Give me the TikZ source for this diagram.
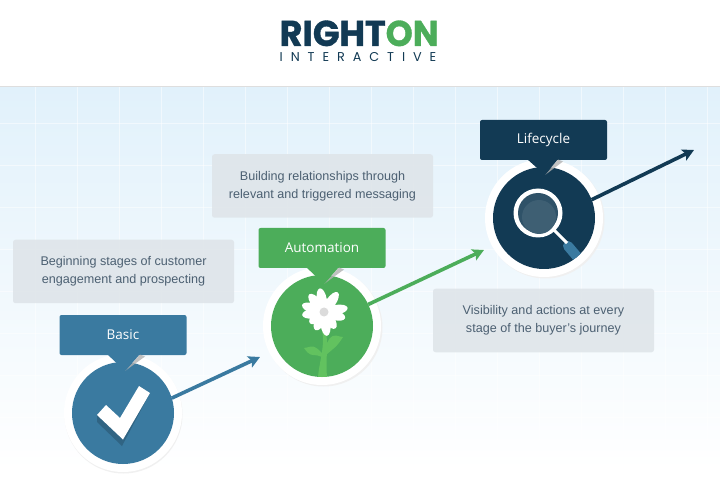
\documentclass[tikz,border=0pt]{standalone}
\usepackage{fontspec}
\setmainfont{Liberation Sans}
\newfontfamily\logofont{Poppins}
\newfontfamily\tagfont{Open Sans}
\usetikzlibrary{arrows.meta,calc}
\definecolor{bluec}{HTML}{3A7AA0}
\definecolor{greenc}{HTML}{4CAD5A}
\definecolor{navyc}{HTML}{123A54}
\definecolor{skyc}{HTML}{E1F1FB}
\definecolor{greybox}{HTML}{DFE5EA}
\definecolor{textc}{HTML}{4C6072}
\definecolor{stemc}{HTML}{62C25F}
\definecolor{glassa}{HTML}{2F5268}
\definecolor{glassb}{HTML}{3E5F73}
\tikzset{
  descbox/.style={fill=greybox,fill opacity=.9,text opacity=1,rounded corners=2.5pt,minimum width=221pt,minimum height=63.5pt,inner sep=0pt,
    text=textc,align=center,font=\fontsize{12.6}{18}\selectfont},
  tagbox/.style={rounded corners=2pt,minimum width=127pt,minimum height=40pt,inner sep=0pt,
    text=white,font=\tagfont\fontsize{13.5}{16}\selectfont},
  disc/.style={circle,minimum size=102pt,inner sep=0pt,outer sep=0pt},
  halo/.style={circle,fill=white,minimum size=118pt,inner sep=0pt,outer sep=0pt},
  halosh/.style={circle,fill=black!6,minimum size=118pt,inner sep=0pt,outer sep=0pt},
  stepline/.style={line width=3.6pt,-{Stealth[length=11.5pt,width=12pt,inset=2.5pt]}},
}
\begin{document}
\begin{tikzpicture}[x=1pt,y=-1pt]
\useasboundingbox (0,0) rectangle (720,486);
% background
\fill[white] (0,0) rectangle (720,486);
\shade[top color=skyc,bottom color=white] (0,87) rectangle (720,470);
\begin{scope}
\clip (0,87) rectangle (720,440);
\foreach \gx in {35,77,...,720} \draw[white,opacity=.5,line width=.8pt] (\gx,87) -- (\gx,440);
\foreach \gy in {123,165,...,440} \draw[white,opacity=.5,line width=.8pt] (0,\gy) -- (720,\gy);
\end{scope}
\fill[black!13] (0,86) rectangle (720,87.2);
% logo
\node[anchor=base west,inner sep=0pt,text=navyc] (logoa) at (279.5,46) {\resizebox{106pt}{25.5pt}{\logofont\bfseries\addfontfeature{FakeBold=1}RIGHT}};
\node[anchor=base west,inner sep=0pt,text=greenc] (logob) at (385.5,46) {\resizebox{53pt}{25.5pt}{\logofont\bfseries\addfontfeature{FakeBold=1}ON}};
\node[anchor=base west,inner sep=0pt,text=navyc] (logoc) at (279.5,62) {\logofont\fontsize{12.8}{12.8}\selectfont\addfontfeature{LetterSpace=62}INTERACTIVE};
% description boxes
\node[descbox] (d1) at (123.5,271.5) {Beginning stages of customer\\engagement and prospecting};
\node[descbox] (d2) at (322.5,186) {Building relationships through\\relevant and triggered messaging};
\node[descbox] (d3) at (543.5,320.5) {Visibility and actions at every\\stage of the buyer’s journey};
% halos
\node[halosh] at (123.5,414.5) {};
\node[halosh] at (323.5,327.5) {};
\node[halosh] at (545.5,219.5) {};
\node[halo] at (123,413) {};
\node[halo] at (322,326) {};
\node[halo] at (544,218) {};
% discs
\node[disc,fill=bluec] (c1) at (123,413) {};
\node[disc,fill=greenc] (c2) at (322,326) {};
\node[disc,fill=navyc] (c3) at (544,218) {};
% tag boxes
\node[tagbox,fill=bluec] (t1) at (123,335) {\raisebox{-1pt}{Basic}};
\node[tagbox,fill=greenc] (t2) at (322,248) {\raisebox{-1pt}{Automation}};
\node[tagbox,fill=navyc] (t3) at (543.5,140) {\raisebox{-1pt}{Lifecycle}};
% pointers
\fill[black!30,opacity=.8] (140,354.5) -- (145,356.5) -- (125,371) -- cycle;
\fill[bluec] (107,354) -- (140,354) -- (125,371) -- cycle;
\fill[black!30,opacity=.8] (339,267.5) -- (344,269.5) -- (324,284) -- cycle;
\fill[greenc] (306,267) -- (339,267) -- (324,284) -- cycle;
\fill[black!30,opacity=.8] (558,159.5) -- (563,161.5) -- (545,175) -- cycle;
\fill[navyc] (527,159) -- (558,159) -- (545,175) -- cycle;
% arrows
\coordinate (e1) at (260,357);
\coordinate (e2) at (484,250);
\coordinate (e3) at (694,150);
\draw[stepline,bluec] (c1.17) -- (e1);
\draw[stepline,greenc] (c2.25) -- (e2);
\draw[stepline,navyc] (c3.21.6) -- (e3);
% check mark
\fill[bluec!82!black] (97,415) -- (97,422) -- (122,446) -- (150,393) -- (139,386) -- (120,424) -- cycle;
\fill[white] (97,415) -- (106,405) -- (120,418) -- (139,386) -- (150,393) -- (123,439.5) -- cycle;
% flower
\begin{scope}
\clip (c2) circle (51);
\fill[stemc] (318,377) .. controls (319,365) and (323,352) .. (323,340) .. controls (323,334) and (322,330) .. (321,326) -- (325,326) .. controls (326,332) and (327,338) .. (327,344) .. controls (327,355) and (326,366) .. (327,377) -- cycle;
\fill[stemc] (326,348) .. controls (327,340) and (331,335) .. (336,335.5) .. controls (338,336) and (341,337) .. (343,337) .. controls (340,342) and (336,347) .. (333,349) .. controls (331,351) and (328,353) .. (326,355) -- cycle;
\fill[stemc] (322,353) .. controls (318,349) and (315,346) .. (311,346.5) .. controls (308,347) and (306,348) .. (304,348) .. controls (306,351) and (309,355) .. (313,355) .. controls (316,355.5) and (319,355) .. (322,357) -- cycle;
\end{scope}
\foreach \a/\l in {100/24,55/24,10/24,-16/22,-55/20,-83/24,-115/20,-142/18,188/22,162/23,130/23} {
  \fill[white,shift={(324,312)},rotate=\a] (\l/2,0) ellipse ({\l/2} and 5);
}
\fill[black!14] (324,312) circle (4.5);
% magnifier
\begin{scope}
\clip (c3) circle (51);
\draw[bluec,line width=10pt,line cap=round] (568,246) -- (590,272);
\end{scope}
\draw[white,line width=3pt] (552,228) -- (567,243);
\fill[white] (538,213) circle (24.5);
\fill[glassa] (538,213) circle (20);
\fill[glassb] (539,217) circle (17);
\end{tikzpicture}
\end{document}
